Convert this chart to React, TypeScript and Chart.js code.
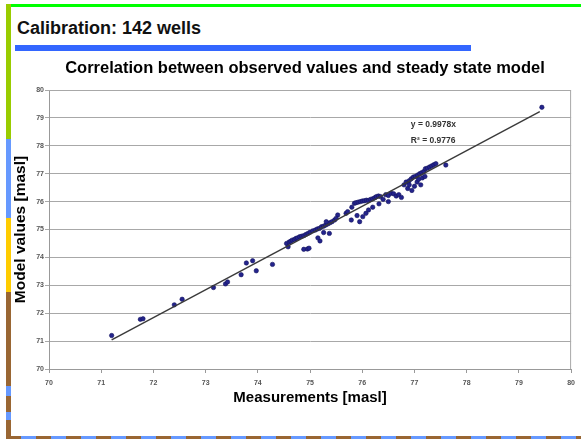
import React, { useEffect, useRef } from "react";
import { Chart, registerables } from "chart.js";

Chart.register(...registerables);

// ---- data ----
const axisTicks = [70, 71, 72, 73, 74, 75, 76, 77, 78, 79, 80];

const measured = [
  71.2, 71.75, 71.8, 72.4, 72.55, 73.15, 73.38, 73.42, 73.68, 73.78, 73.9, 73.97, 74.28,
  74.55, 74.58, 74.6, 74.63, 74.66, 74.7, 74.73, 74.76, 74.8, 74.84, 74.88, 74.92, 74.96, 75.0, 75.05, 75.1, 75.14, 75.18, 75.22, 75.26, 75.3, 75.34, 75.38, 75.42, 75.47,
  74.88, 74.95, 74.98, 75.19, 75.15, 75.26, 75.37, 75.31, 75.53, 75.5,
  75.69, 75.72, 75.8, 75.85, 75.88, 75.92, 75.96, 76.0, 76.04, 76.08, 76.12, 76.16, 76.2, 76.24, 76.27, 76.31, 76.35, 76.4, 76.45, 76.5, 76.55, 76.6,
  75.79, 75.95, 76.01, 76.07, 76.12, 75.9, 76.2, 76.32,
  76.5, 76.65, 76.7, 76.75,
  76.8, 76.84, 76.87, 76.9, 76.94, 76.98, 77.02, 77.06, 77.1, 77.14, 77.18, 77.21, 77.25, 77.29, 77.33, 77.37, 77.41, 77.6,
  76.95, 77.0, 77.05, 77.08, 77.12, 77.15, 77.2, 76.9,
  79.44,
];

const modelValues = [
  71.2, 71.78, 71.8, 72.3, 72.5, 72.92, 73.05, 73.12, 73.38, 73.8, 73.88, 73.52, 73.75,
  74.5, 74.38, 74.55, 74.58, 74.62, 74.64, 74.68, 74.7, 74.74, 74.76, 74.78, 74.82, 74.86, 74.9, 74.95, 74.98, 75.02, 75.04, 75.1, 75.12, 75.16, 75.2, 75.24, 75.28, 75.34,
  74.29, 74.3, 74.33, 74.59, 74.7, 74.89, 74.86, 75.28, 75.52, 75.4,
  75.58, 75.64, 75.8, 75.94, 75.96, 75.98, 76.0, 76.02, 76.03, 76.05, 76.04, 76.08, 76.1, 76.14, 76.18, 76.2, 76.18, 76.08, 76.25, 76.22, 76.3, 76.28,
  75.34, 75.28, 75.46, 75.58, 75.7, 75.5, 75.8, 75.92,
  76.0, 76.2, 76.25, 76.15,
  76.6, 76.7, 76.47, 76.75, 76.82, 76.88, 76.9, 76.95, 77.0, 77.04, 77.08, 77.18, 77.2, 77.24, 77.28, 77.32, 77.36, 77.31,
  76.4, 76.55, 76.7, 76.8, 76.6, 76.85, 76.9, 76.6,
  79.38,
];

const trendSlope = 0.9978;
const trendRange = [71.2, 79.4];
const equationLines = ["y = 0.9978x", "R\u00B2 = 0.9776"];

const FONT = "'Liberation Sans', Arial, Helvetica, sans-serif";

const framePlugin = {
  id: "frame",
  afterDraw(chart: any) {
    const { ctx, chartArea } = chart;
    ctx.save();
    ctx.strokeStyle = "#a8a8a8";
    ctx.lineWidth = 1;
    ctx.beginPath();
    ctx.moveTo(chartArea.left, chartArea.top + 0.5);
    ctx.lineTo(chartArea.right - 0.5, chartArea.top + 0.5);
    ctx.lineTo(chartArea.right - 0.5, chartArea.bottom);
    ctx.stroke();
    // equation text
    const xs = chart.scales.x;
    const ys = chart.scales.y;
    ctx.fillStyle = "#333";
    ctx.font = `bold 8.5px ${FONT}`;
    ctx.textBaseline = "middle";
    ctx.textAlign = "left";
    ctx.fillText(equationLines[0], xs.getPixelForValue(76.93), ys.getPixelForValue(78.75));
    ctx.fillText(equationLines[1], xs.getPixelForValue(76.93), ys.getPixelForValue(78.2));
    ctx.restore();
  },
};

function CorrelationChart() {
  const ref = useRef<HTMLCanvasElement>(null);
  useEffect(() => {
    if (!ref.current) return;
    const points = measured.map((x, i) => ({ x, y: modelValues[i] }));
    const trend = trendRange.map((x) => ({ x, y: trendSlope * x }));
    const tickFont = { family: FONT, size: 7, weight: "bold" as const };
    const chart = new Chart(ref.current, {
      type: "scatter",
      data: {
        datasets: [
          {
            type: "line",
            data: trend,
            borderColor: "#3a3a3a",
            borderWidth: 1.4,
            pointRadius: 0,
            fill: false,
          } as any,
          {
            data: points,
            backgroundColor: "#24248c",
            borderColor: "#12125e",
            borderWidth: 0.6,
            pointRadius: 2.2,
          },
        ],
      },
      options: {
        responsive: false,
        animation: false,
        devicePixelRatio: 1,
        layout: { padding: { top: 90, left: 10, right: 9, bottom: 30 } },
        plugins: {
          legend: { display: false },
          tooltip: { enabled: false },
          title: { display: false },
        },
        scales: {
          x: {
            type: "linear",
            min: 70,
            max: 80,
            afterBuildTicks: (s: any) => {
              s.ticks = axisTicks.map((v) => ({ value: v }));
            },
            afterFit: (s: any) => {
              s.height = 41;
            },
            ticks: { font: tickFont, color: "#555", padding: 6, maxRotation: 0, autoSkip: false },
            grid: { drawOnChartArea: false, drawTicks: true, tickLength: 4, color: "#999" },
            border: { color: "#999", width: 1 },
            title: {
              display: true,
              text: "Measurements [masl]",
              font: { family: FONT, size: 15, weight: "bold" },
              color: "#000",
              padding: { top: 0, bottom: 3 },
            },
          },
          y: {
            type: "linear",
            min: 70,
            max: 80,
            afterBuildTicks: (s: any) => {
              s.ticks = axisTicks.map((v) => ({ value: v }));
            },
            afterFit: (s: any) => {
              s.width = 39;
            },
            ticks: { font: tickFont, color: "#555", padding: 1, autoSkip: false },
            grid: { color: "#a8a8a8", lineWidth: 1, tickLength: 4 },
            border: { color: "#999", width: 1 },
            title: {
              display: true,
              text: "Model values [masl]",
              font: { family: FONT, size: 15.5, weight: "bold" },
              color: "#000",
              padding: { top: 1.5, bottom: 0 },
            },
          },
        },
      },
      plugins: [framePlugin],
    });
    return () => chart.destroy();
  }, []);
  return (
    <canvas
      ref={ref}
      width={581}
      height={440}
      style={{ position: "absolute", left: 0, top: 0, width: 581, height: 440, display: "block" }}
    />
  );
}

const leftSegments = [
  { top: 4, bottom: 139, color: "#99cc00" },
  { top: 139, bottom: 218, color: "#6699ff" },
  { top: 218, bottom: 292, color: "#ffcc00" },
  { top: 292, bottom: 386, color: "#996633" },
  { top: 386, bottom: 396, color: "#6699ff" },
  { top: 396, bottom: 412, color: "#996633" },
  { top: 412, bottom: 420, color: "#6699ff" },
  { top: 420, bottom: 439, color: "#996633" },
];

export default function App() {
  return (
    <div
      style={{
        position: "absolute",
        left: 0,
        top: 0,
        width: 581,
        height: 440,
        background: "#fff",
        overflow: "hidden",
        fontFamily: FONT,
      }}
    >
      <div style={{ position: "absolute", left: 7, top: 4, width: 574, height: 3, background: "#00ff00" }} />
      {leftSegments.map((s, i) => (
        <div
          key={i}
          style={{ position: "absolute", left: 6, top: s.top, width: 5, height: s.bottom - s.top, background: s.color }}
        />
      ))}
      <div
        style={{
          position: "absolute",
          left: 6,
          top: 436,
          width: 575,
          height: 3,
          background: "repeating-linear-gradient(to right, #996633 0px, #996633 15px, #6699ff 15px, #6699ff 30px)",
        }}
      />
      <div
        style={{
          position: "absolute",
          left: 17,
          top: 19,
          fontSize: 18,
          lineHeight: "18px",
          fontWeight: "bold",
          color: "#111",
          whiteSpace: "nowrap",
        }}
      >
        Calibration: 142 wells
      </div>
      <div style={{ position: "absolute", left: 15, top: 45, width: 456, height: 6, background: "#3366ff" }} />
      <CorrelationChart />
      <div
        style={{
          position: "absolute",
          left: 0,
          top: 57,
          width: 610,
          textAlign: "center",
          fontSize: 16.5,
          lineHeight: "20px",
          fontWeight: "bold",
          color: "#000",
          whiteSpace: "nowrap",
        }}
      >
        Correlation between observed values and steady state model
      </div>
    </div>
  );
}
